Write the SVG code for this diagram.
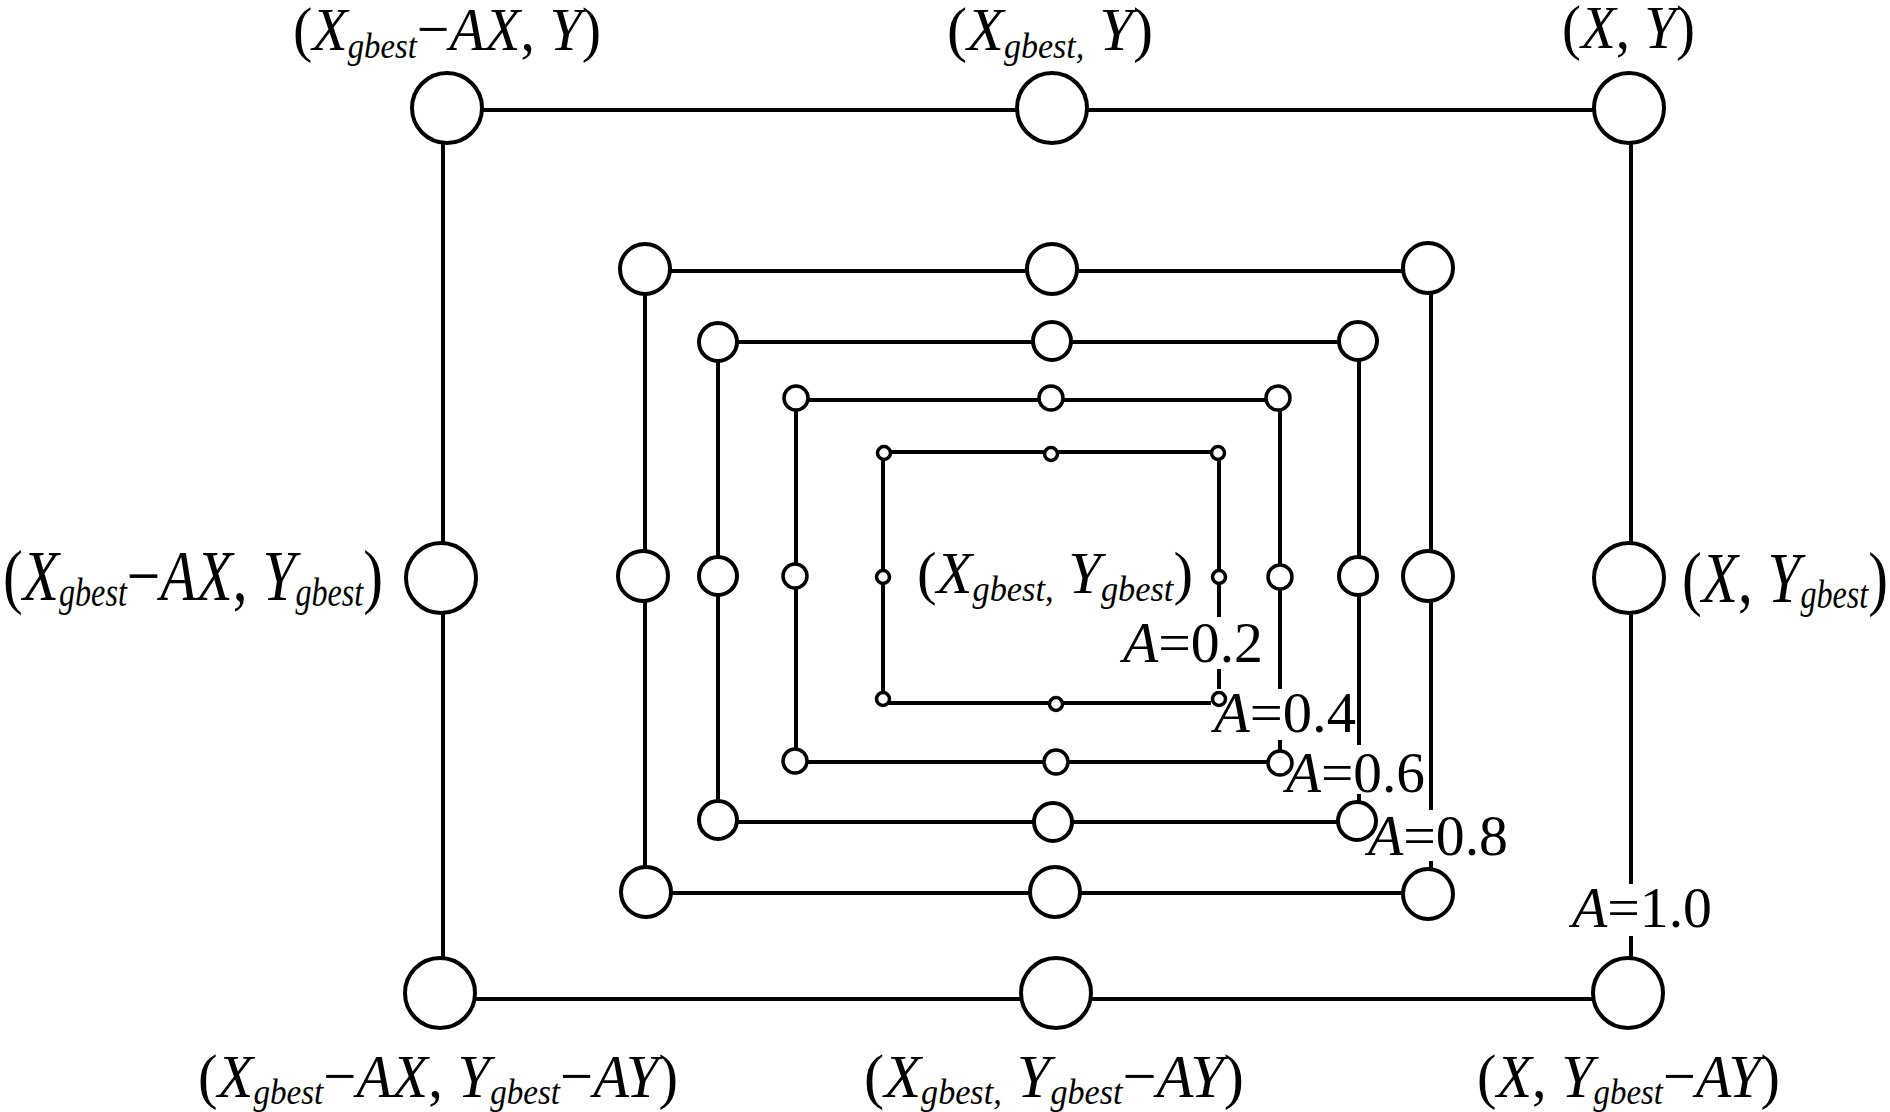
<svg xmlns="http://www.w3.org/2000/svg" width="1890" height="1112" viewBox="0 0 1890 1112">
<style>
.ring{fill:none;stroke:#000;stroke-width:4}
.n{fill:#fff;stroke:#000;stroke-width:4}
.ns{fill:#fff;stroke:#000;stroke-width:3.5}
.t{font-family:"Liberation Serif","Times New Roman",serif;fill:#000;font-size:62px}
.m{font-size:72px}
.c{font-size:60px}
.i{font-style:italic}
.s{font-style:italic;font-size:35px}
.sm{font-style:italic;font-size:39px}
.a{font-family:"Liberation Serif","Times New Roman",serif;fill:#000;font-size:57px}
.bg{fill:#fff}
</style>
<rect width="1890" height="1112" fill="#fff"/>
<g id="connectors">
<path class="ring" d="M443 110H1631V999H443Z"/>
<path class="ring" d="M645 271H1431V893H645Z"/>
<path class="ring" d="M718 342H1359V822H718Z"/>
<path class="ring" d="M796 400H1280V762H796Z"/>
<path class="ring" d="M883 452H1219V703H883Z"/>
</g>
<g id="ring-label-bg">
<rect class="bg" x="1119" y="617" width="150" height="52"/>
<rect class="bg" x="1211" y="689" width="145" height="51"/>
<rect class="bg" x="1283" y="745" width="145" height="49"/>
<rect class="bg" x="1365" y="810" width="146" height="51"/>
<rect class="bg" x="1570" y="884" width="145" height="52"/>
</g>
<g id="ring10">
<g id="n10-tl"><circle class="n" cx="447" cy="108" r="35"/><text class="t" x="293" y="50" textLength="308" lengthAdjust="spacingAndGlyphs">(<tspan class="i">X</tspan><tspan class="s" dy="8">gbest</tspan><tspan dy="-8">−</tspan><tspan class="i">AX</tspan>, <tspan class="i">Y</tspan>)</text></g>
<g id="n10-tm"><circle class="n" cx="1052" cy="108" r="35"/><text class="t" x="947" y="50" textLength="206" lengthAdjust="spacingAndGlyphs">(<tspan class="i">X</tspan><tspan class="s" dy="8">gbest,</tspan><tspan dy="-8"> </tspan><tspan class="i">Y</tspan>)</text></g>
<g id="n10-tr"><circle class="n" cx="1629" cy="108" r="35"/><text class="t" x="1562" y="48" textLength="133" lengthAdjust="spacingAndGlyphs">(<tspan class="i">X</tspan>, <tspan class="i">Y</tspan>)</text></g>
<g id="n10-ml"><circle class="n" cx="441" cy="578" r="35"/><text class="t m" x="3" y="600" textLength="380" lengthAdjust="spacingAndGlyphs">(<tspan class="i">X</tspan><tspan class="sm" dy="6">gbest</tspan><tspan dy="-6">−</tspan><tspan class="i">AX</tspan>, <tspan class="i">Y</tspan><tspan class="sm" dy="6">gbest</tspan><tspan dy="-6">)</tspan></text></g>
<g id="n10-mr"><circle class="n" cx="1629" cy="578" r="35"/><text class="t m" x="1682" y="602" textLength="206" lengthAdjust="spacingAndGlyphs">(<tspan class="i">X</tspan>, <tspan class="i">Y</tspan><tspan class="sm" dy="6">gbest</tspan><tspan dy="-6">)</tspan></text></g>
<g id="n10-bl"><circle class="n" cx="440" cy="993" r="35"/><text class="t" x="198" y="1097" textLength="480" lengthAdjust="spacingAndGlyphs">(<tspan class="i">X</tspan><tspan class="s" dy="7">gbest</tspan><tspan dy="-7">−</tspan><tspan class="i">AX</tspan>, <tspan class="i">Y</tspan><tspan class="s" dy="7">gbest</tspan><tspan dy="-7">−</tspan><tspan class="i">AY</tspan>)</text></g>
<g id="n10-bm"><circle class="n" cx="1056" cy="993" r="35"/><text class="t" x="864" y="1097" textLength="380" lengthAdjust="spacingAndGlyphs">(<tspan class="i">X</tspan><tspan class="s" dy="7">gbest,</tspan><tspan dy="-7"> </tspan><tspan class="i">Y</tspan><tspan class="s" dy="7">gbest</tspan><tspan dy="-7">−</tspan><tspan class="i">AY</tspan>)</text></g>
<g id="n10-br"><circle class="n" cx="1628" cy="993" r="35"/><text class="t" x="1477" y="1097" textLength="303" lengthAdjust="spacingAndGlyphs">(<tspan class="i">X</tspan>, <tspan class="i">Y</tspan><tspan class="s" dy="7">gbest</tspan><tspan dy="-7">−</tspan><tspan class="i">AY</tspan>)</text></g>
</g>
<g id="ring08">
<g id="n08-tl"><circle class="n" cx="645" cy="269" r="25"/></g>
<g id="n08-tm"><circle class="n" cx="1052" cy="269" r="25"/></g>
<g id="n08-tr"><circle class="n" cx="1428" cy="268" r="25"/></g>
<g id="n08-ml"><circle class="n" cx="643" cy="576" r="25"/></g>
<g id="n08-mr"><circle class="n" cx="1428" cy="576" r="25"/></g>
<g id="n08-bl"><circle class="n" cx="646" cy="892" r="25"/></g>
<g id="n08-bm"><circle class="n" cx="1055" cy="892" r="25"/></g>
<g id="n08-br"><circle class="n" cx="1428" cy="894" r="25"/></g>
</g>
<g id="ring06">
<g id="n06-tl"><circle class="n" cx="718" cy="342" r="19"/></g>
<g id="n06-tm"><circle class="n" cx="1052" cy="341" r="19"/></g>
<g id="n06-tr"><circle class="n" cx="1358" cy="341" r="19"/></g>
<g id="n06-ml"><circle class="n" cx="718" cy="576" r="19"/></g>
<g id="n06-mr"><circle class="n" cx="1358" cy="576" r="19"/></g>
<g id="n06-bl"><circle class="n" cx="718" cy="820" r="19"/></g>
<g id="n06-bm"><circle class="n" cx="1053" cy="822" r="19"/></g>
<g id="n06-br"><circle class="n" cx="1357" cy="821" r="19"/></g>
</g>
<g id="ring04">
<g id="n04-tl"><circle class="ns" cx="796" cy="398" r="12"/></g>
<g id="n04-tm"><circle class="ns" cx="1051" cy="398" r="12"/></g>
<g id="n04-tr"><circle class="ns" cx="1278" cy="398" r="12"/></g>
<g id="n04-ml"><circle class="ns" cx="795" cy="576" r="12"/></g>
<g id="n04-mr"><circle class="ns" cx="1280" cy="577" r="12"/></g>
<g id="n04-bl"><circle class="ns" cx="795" cy="761" r="12"/></g>
<g id="n04-bm"><circle class="ns" cx="1056" cy="762" r="12"/></g>
<g id="n04-br"><circle class="ns" cx="1280" cy="763" r="12"/></g>
</g>
<g id="ring02">
<g id="n02-tl"><circle class="ns" cx="884" cy="453" r="6.5"/></g>
<g id="n02-tm"><circle class="ns" cx="1051" cy="454" r="6.5"/></g>
<g id="n02-tr"><circle class="ns" cx="1218" cy="453" r="6.5"/></g>
<g id="n02-ml"><circle class="ns" cx="883" cy="577" r="6.5"/></g>
<g id="n02-mr"><circle class="ns" cx="1219" cy="577" r="6.5"/></g>
<g id="n02-bl"><circle class="ns" cx="883" cy="699" r="6.5"/></g>
<g id="n02-bm"><circle class="ns" cx="1056" cy="704" r="6.5"/></g>
<g id="n02-br"><circle class="ns" cx="1219" cy="699" r="6.5"/></g>
</g>
<g id="center"><text class="t c" x="917" y="593" textLength="276" lengthAdjust="spacingAndGlyphs">(<tspan class="i">X</tspan><tspan class="s" dy="8">gbest,</tspan><tspan dy="-8"> </tspan><tspan class="i">Y</tspan><tspan class="s" dy="8">gbest</tspan><tspan dy="-8">)</tspan></text></g>
<g id="ring-labels">
<text class="a" x="1123" y="662" textLength="140" lengthAdjust="spacingAndGlyphs"><tspan class="i">A</tspan>=0.2</text>
<text class="a" x="1214" y="732" textLength="142" lengthAdjust="spacingAndGlyphs"><tspan class="i">A</tspan>=0.4</text>
<text class="a" x="1286" y="792" textLength="139" lengthAdjust="spacingAndGlyphs"><tspan class="i">A</tspan>=0.6</text>
<text class="a" x="1368" y="855" textLength="140" lengthAdjust="spacingAndGlyphs"><tspan class="i">A</tspan>=0.8</text>
<text class="a" x="1572" y="927" textLength="140" lengthAdjust="spacingAndGlyphs"><tspan class="i">A</tspan>=1.0</text>
</g>
</svg>
